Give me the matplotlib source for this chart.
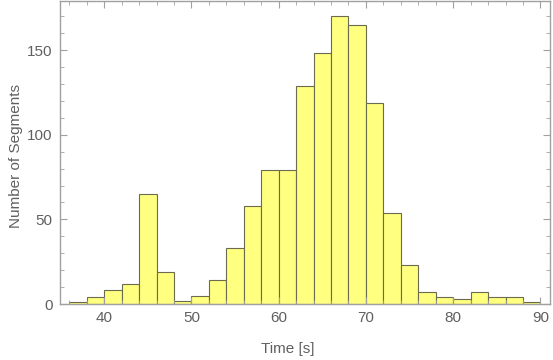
import numpy as np
import matplotlib
matplotlib.use('Agg')
import matplotlib.pyplot as plt
from matplotlib.ticker import MultipleLocator

bin_edges = np.arange(36, 92, 2)
counts = [1, 4, 8, 12, 65, 19, 2, 5, 14, 33, 58, 79, 79, 129,
          148, 170, 165, 119, 54, 23, 7, 4, 3, 7, 4, 4, 1]
x_label = 'Time [s]'
y_label = 'Number of Segments'

plt.rcParams['font.family'] = ['Liberation Sans', 'DejaVu Sans']

fig = plt.figure(figsize=(5.53, 3.6), dpi=100)
ax = fig.add_axes([59.7 / 553, 1 - 304 / 360, (550 - 59.7) / 553, (304 - 1) / 360])

ax.hist(bin_edges[:-1], bins=bin_edges, weights=counts,
        facecolor='#ffff80', edgecolor='#6b6b50', linewidth=0.8)

ax.set_xlim(34.9, 91.1)
ax.set_ylim(0, 179)

frame = '#a0a0a0'
for s in ax.spines.values():
    s.set_color(frame)
    s.set_linewidth(1.0)

ax.xaxis.set_major_locator(MultipleLocator(10))
ax.xaxis.set_minor_locator(MultipleLocator(2))
ax.yaxis.set_major_locator(MultipleLocator(50))
ax.yaxis.set_minor_locator(MultipleLocator(10))
ax.tick_params(which='both', direction='in', top=True, right=True,
               color=frame, labelcolor='#606060', labelsize=11)
ax.tick_params(which='major', length=5, width=0.8, pad=5)
ax.tick_params(which='minor', length=3, width=0.6)

ax.set_xlabel(x_label, fontsize=11, color='#606060')
ax.set_ylabel(y_label, fontsize=11, color='#606060')
# mathematica puts the labels a bit off-centre
ax.xaxis.set_label_coords(0.466, -0.125)
ax.yaxis.set_label_coords(-0.075, 0.487)

fig.savefig('out.png', dpi=100)
